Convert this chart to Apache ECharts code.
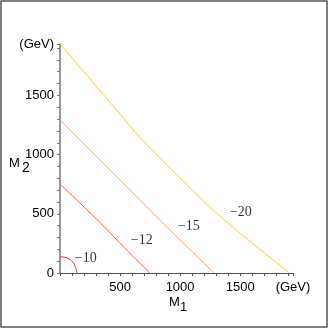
<!DOCTYPE html>
<html>
<head>
<meta charset="utf-8">
<script src="https://cdn.jsdelivr.net/npm/echarts@6/dist/echarts.min.js"></script>
<style>
  html, body { margin: 0; padding: 0; background: #fff; }
  #chart { width: 329px; height: 329px; }
</style>
</head>
<body>
<div id="chart"></div>
<script>
// axis extents (GeV)
const xMax = 1940;
const yMax = 1934;

// contour lines, M1 / M2 pairs
const c10 = [[0, 138], [50, 131], [85, 113], [110, 88], [127, 55], [137, 22], [140, 0]];
const c12 = [[0, 752], [335, 425], [544, 205], [748, 0]];
const c15 = [[0, 1292], [502, 783], [823, 455], [1284, 0]];
const c20 = [[0, 1934], [502, 1340], [670, 1140], [1172, 630], [1424, 400], [1910, 0]];

// contour labels
const labelNames = ["\u221210", "\u221212", "\u221215", "\u221220"];
const labelPos = [[214, 120], [681, 274], [1073, 397], [1506, 515]];

const chart = echarts.init(document.getElementById("chart"));

function line(name, data, color) {
  return {
    name: name,
    type: "line",
    data: data,
    showSymbol: false,
    smooth: 0.3,
    lineStyle: { color: color, width: 1 },
    animation: false
  };
}

chart.setOption({
  animation: false,
  grid: { left: 60, right: 36, top: 44, bottom: 56 },
  xAxis: {
    type: "value",
    min: 0,
    max: xMax,
    interval: 100,
    axisLine: { lineStyle: { color: "#555", width: 1 } },
    axisTick: { length: 3, lineStyle: { color: "#555" } },
    axisLabel: {
      color: "#000",
      fontSize: 13,
      fontFamily: "Liberation Sans",
      margin: 8,
      showMaxLabel: true,
      formatter: v => v === xMax ? "(GeV)" : (v > 0 && v % 500 === 0 ? String(v) : "")
    },
    splitLine: { show: false }
  },
  yAxis: {
    type: "value",
    min: 0,
    max: yMax,
    interval: 100,
    axisLine: { lineStyle: { color: "#999", width: 2 } },
    axisTick: { length: 3, lineStyle: { color: "#777" } },
    axisLabel: {
      color: "#000",
      fontSize: 13,
      fontFamily: "Liberation Sans",
      margin: 6,
      showMaxLabel: true,
      formatter: v => v === yMax ? "(GeV)" : (v % 500 === 0 ? String(v) : "")
    },
    splitLine: { show: false }
  },
  series: [
    line("-10", c10, "#ff2020"),
    line("-12", c12, "#ff5a30"),
    line("-15", c15, "#ffa050"),
    line("-20", c20, "#ffcc10"),
    {
      type: "scatter",
      symbolSize: 0,
      data: labelPos.map((p, i) => ({ value: p, name: labelNames[i] })),
      label: {
        show: true,
        position: "inside",
        formatter: p => p.name,
        color: "#000",
        fontSize: 14,
        fontFamily: "Liberation Serif"
      },
      animation: false
    }
  ],
  graphic: [
    {
      type: "rect",
      shape: { x: 1, y: 1, width: 326, height: 326 },
      style: { fill: null, stroke: "#555", lineWidth: 1.5 }
    },
    { type: "text", left: 169, top: 296, style: { text: "M", fontSize: 13, fontFamily: "Liberation Sans", fill: "#000" } },
    { type: "text", left: 180, top: 301, style: { text: "1", fontSize: 13, fontFamily: "Liberation Sans", fill: "#000" } },
    { type: "text", left: 9, top: 157, style: { text: "M", fontSize: 13, fontFamily: "Liberation Sans", fill: "#000" } },
    { type: "text", left: 22, top: 161, style: { text: "2", fontSize: 14, fontFamily: "Liberation Sans", fill: "#000" } }
  ]
});
</script>
</body>
</html>
